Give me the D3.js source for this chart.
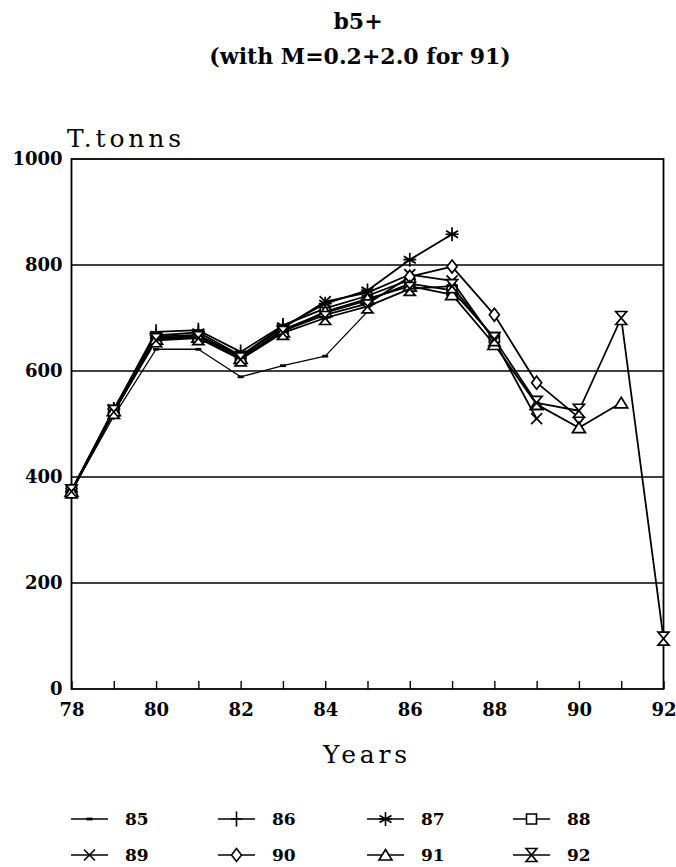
<!DOCTYPE html>
<html>
<head>
<meta charset="utf-8">
<script src="https://cdn.jsdelivr.net/npm/d3@7"></script>
<style>
  html, body { margin: 0; padding: 0; background: #fff; }
  svg { display: block; }
</style>
</head>
<body>
<svg id="chart" width="676" height="867"></svg>
<script>
// Biomass b5+ (thousand tonnes) by assessment run, 1978-1992
const years = [78, 79, 80, 81, 82, 83, 84, 85, 86, 87, 88, 89, 90, 91, 92];
const run85 = [373, 515, 641, 641, 589, 610, 628, 712];
const run86 = [375, 527, 674, 677, 636, 686, 718, 742, 772];
const run87 = [372, 528, 667, 673, 629, 684, 727, 752, 810, 858];
const run88 = [373, 524, 661, 664, 623, 678, 710, 733, 765, 752, 663];
const run89 = [374, 527, 665, 668, 628, 681, 731, 748, 782, 770, 657, 510];
const run90 = [372, 522, 662, 666, 625, 676, 706, 727, 778, 797, 706, 578, 512];
const run91 = [373, 525, 660, 664, 624, 674, 712, 736, 760, 744, 650, 537, 493, 540];
const run92 = [373, 523, 658, 662, 622, 672, 700, 722, 755, 760, 660, 540, 525, 700, 95];
const runLabels = ["85", "86", "87", "88", "89", "90", "91", "92"];
const yTicks = [0, 200, 400, 600, 800, 1000];
const xLabelYears = [78, 80, 82, 84, 86, 88, 90, 92];

const runs = [run85, run86, run87, run88, run89, run90, run91, run92];
const symbolKeys = ["dash", "plus", "star", "square", "cross", "diamond", "triangle", "hourglass"];

// marker outlines, centred on the data point
const symbolPath = {
  dash: "M-3,0H3",
  plus: "M0,-7.5V7.5M-5.5,0H5.5",
  star: "M0,-7V7M-6,-3.5L6,3.5M-6,3.5L6,-3.5M-6.5,0H6.5",
  square: "M-5,-5H5V5H-5Z",
  cross: "M-5.5,-5.5L5.5,5.5M-5.5,5.5L5.5,-5.5",
  diamond: "M0,-6.5L5,0L0,6.5L-5,0Z",
  triangle: "M0,-5.5L6.5,5H-6.5Z",
  hourglass: "M-5.5,-6.5H5.5L-5.5,6.5H5.5Z"
};
const openSymbols = new Set(["square", "diamond", "triangle", "hourglass"]);

const svg = d3.select("#chart");
const serif = "'DejaVu Serif', 'Liberation Serif', serif";

const x = d3.scaleLinear().domain([78, 92]).range([71.5, 663.5]);
const y = d3.scaleLinear().domain([0, 1000]).range([689, 159]);

// title
svg.append("text")
  .attr("x", 358).attr("y", 29)
  .attr("text-anchor", "middle")
  .attr("font-family", serif).attr("font-weight", "bold").attr("font-size", 22)
  .text("b5+");
svg.append("text")
  .attr("x", 360).attr("y", 64)
  .attr("text-anchor", "middle")
  .attr("font-family", serif).attr("font-weight", "bold").attr("font-size", 22)
  .text("(with M=0.2+2.0 for 91)");

// y axis title
svg.append("text")
  .attr("x", 67).attr("y", 147)
  .attr("font-family", serif).attr("font-size", 25)
  .attr("textLength", 114).attr("lengthAdjust", "spacing")
  .text("T.tonns");

// gridlines
svg.append("g")
  .selectAll("line")
  .data(yTicks.filter(v => v > 0 && v < 1000))
  .join("line")
  .attr("x1", x(78)).attr("x2", x(92))
  .attr("y1", d => y(d)).attr("y2", d => y(d))
  .attr("stroke", "#000").attr("stroke-width", 1.3);

// frame
svg.append("rect")
  .attr("x", x(78)).attr("y", y(1000))
  .attr("width", x(92) - x(78)).attr("height", y(0) - y(1000))
  .attr("fill", "none").attr("stroke", "#000").attr("stroke-width", 1.8);

// y axis labels
const yAxis = svg.append("g")
  .attr("transform", `translate(${x(78)},0)`)
  .call(d3.axisLeft(y).tickValues(yTicks).tickSize(0).tickPadding(9).tickFormat(d3.format("d")));
yAxis.select(".domain").remove();
yAxis.selectAll("text")
  .attr("font-family", serif).attr("font-weight", "bold").attr("font-size", 18)
  .attr("fill", "#000");

// x axis: inward ticks every year, labels on even years
const xAxis = svg.append("g")
  .attr("transform", `translate(0,${y(0)})`)
  .call(d3.axisBottom(x).tickValues(years).tickSize(-8).tickPadding(14)
    .tickFormat(d => xLabelYears.includes(d) ? String(d) : ""));
xAxis.select(".domain").remove();
xAxis.selectAll(".tick line").attr("stroke", "#000").attr("stroke-width", 1.4);
xAxis.selectAll("text")
  .attr("font-family", serif).attr("font-weight", "bold").attr("font-size", 18)
  .attr("fill", "#000");

// x axis title
svg.append("text")
  .attr("x", 323).attr("y", 763)
  .attr("font-family", serif).attr("font-size", 25)
  .attr("textLength", 84).attr("lengthAdjust", "spacing")
  .text("Years");

// series
const line = d3.line().x((d, i) => x(years[i])).y(d => y(d));
const plot = svg.append("g");
runs.forEach((vals, k) => {
  const key = symbolKeys[k];
  const g = plot.append("g");
  g.append("path")
    .attr("d", line(vals))
    .attr("fill", "none").attr("stroke", "#000")
    .attr("stroke-width", k === 0 ? 1.3 : 1.8)
    .attr("stroke-linejoin", "round");
  g.selectAll("path.mk")
    .data(vals)
    .join("path")
    .attr("class", "mk")
    .attr("transform", (d, i) => `translate(${x(years[i])},${y(d)})`)
    .attr("d", symbolPath[key])
    .attr("fill", openSymbols.has(key) ? "#fff" : "none")
    .attr("stroke", "#000")
    .attr("stroke-width", key === "dash" ? 2.8 : 1.7);
});

// legend: 4 columns x 2 rows
const legendCols = [71, 218, 367, 513];
const legendRows = [819, 855];
const legend = svg.append("g");
runLabels.forEach((lab, k) => {
  const cx = legendCols[k % 4];
  const cy = legendRows[Math.floor(k / 4)];
  const g = legend.append("g").attr("transform", `translate(${cx},${cy})`);
  g.append("line").attr("x1", 0).attr("x2", 37).attr("y1", 0).attr("y2", 0)
    .attr("stroke", "#000").attr("stroke-width", 1.6);
  const key = symbolKeys[k];
  g.append("path")
    .attr("transform", "translate(18.5,0)")
    .attr("d", symbolPath[key])
    .attr("fill", openSymbols.has(key) ? "#fff" : "none")
    .attr("stroke", "#000")
    .attr("stroke-width", key === "dash" ? 2.8 : 1.6);
  g.append("text")
    .attr("x", 54).attr("y", 0).attr("dy", "0.36em")
    .attr("font-family", serif).attr("font-weight", "bold").attr("font-size", 17)
    .text(lab);
});
</script>
</body>
</html>
